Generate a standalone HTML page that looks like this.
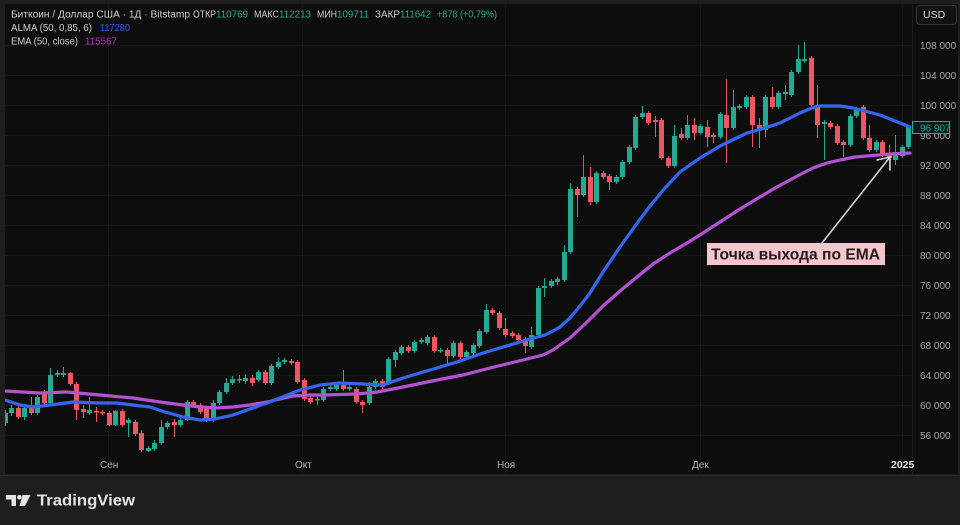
<!DOCTYPE html>
<html><head><meta charset="utf-8"><style>
html,body{margin:0;padding:0;background:#1e1e1e;width:960px;height:525px;overflow:hidden}
svg{display:block}
text{font-family:"Liberation Sans",sans-serif}
</style></head><body>
<svg width="960" height="525" viewBox="0 0 960 525" xmlns="http://www.w3.org/2000/svg">
<defs><clipPath id="plot"><rect x="5" y="4" width="907" height="452"/></clipPath></defs>
<rect x="0" y="0" width="960" height="525" fill="#1e1e1e"/>
<rect x="5" y="4" width="953" height="470" fill="#0e0e0e"/>
<line x1="0" y1="475.5" x2="960" y2="475.5" stroke="#2c2c2c" stroke-width="1"/>
<!-- grid -->
<g stroke="#171717" stroke-width="1">
<path d="M5 45.5H912M5 75.5H912M5 105.5H912M5 135.5H912M5 165.5H912M5 195.5H912M5 225.5H912M5 255.5H912M5 285.5H912M5 315.5H912M5 345.5H912M5 375.5H912M5 405.5H912M5 435.5H912"/>
<path d="M108.5 4V474M302.5 4V474M505.5 4V474M700.5 4V474M902.5 4V474"/>
</g>
<line x1="912.5" y1="4" x2="912.5" y2="474" stroke="#1c1c1c"/>
<g clip-path="url(#plot)">
<!-- green wicks -->
<path stroke="#22ab94" stroke-width="1" fill="none" d="M5.5 410V426M11.5 405V416M24.5 405V420M37.5 395V415M50.5 368V405M57.5 370V377M63.5 367V377M89.5 397V415M115.5 410V426M128.5 418V437M148.5 446V452M154.5 440V451M161.5 420V445M167.5 421V429M180.5 418V427M187.5 400V421M213.5 400V422M219.5 390V405M226.5 378V394M232.5 376V385M239.5 375V383M245.5 374V384M258.5 370V382M271.5 364V385M278.5 357V369M284.5 358V364M317.5 396V405M323.5 387V402M330.5 385V391M336.5 383V391M349.5 385V391M369.5 382V405M375.5 379V389M388.5 357V385M395.5 350V367M401.5 345V355M414.5 340V353M421.5 338V344M427.5 335V345M440.5 348V353M453.5 341V358M466.5 350V359M473.5 343V355M479.5 329V348M486.5 304V334M531.5 327V349M538.5 286V337M544.5 278V297M551.5 279V288M557.5 277V285M564.5 245V282M570.5 183V254M583.5 155V197M596.5 171V204M616.5 175V184M622.5 160V179M629.5 145V164M635.5 115V150M642.5 106V119M674.5 125V168M687.5 115V140M700.5 124V135M720.5 112V139M733.5 90V130M739.5 104V110M746.5 95V109M765.5 95V137M778.5 91V109M785.5 85V100M791.5 70V97M798.5 45V74M804.5 42V63M824.5 120V160M850.5 114V147M856.5 107V118M876.5 140V152M895.5 135V165M902.5 145V158M908.5 125V149"/>
<!-- green bodies -->
<path stroke="#22ab94" stroke-width="5" fill="none" d="M5.5 413V423M11.5 408V413M24.5 408V417M37.5 397V413M50.5 375V403M57.5 373V375M63.5 373V375M89.5 410V413M115.5 411V425M128.5 420V423M148.5 448V451M154.5 443V449M161.5 427V443M167.5 423V427M180.5 420V425M187.5 402V420M213.5 403V420M219.5 392V403M226.5 383V392M232.5 379V383M239.5 379V380.5M245.5 378V381M258.5 372V380M271.5 366V383M278.5 362V367M284.5 360V362M317.5 399V400.5M323.5 389V400M330.5 387V389M336.5 385V389M349.5 387V389M369.5 387V403M375.5 381V387M388.5 359V383M395.5 352V360M401.5 347V353M414.5 342V351M421.5 340V342M427.5 337V343M440.5 350V351.5M453.5 343V356M466.5 352V357M473.5 345V353M479.5 331V346M486.5 310V332M531.5 335V347M538.5 288V335M544.5 286V288M551.5 281V286M557.5 279V282M564.5 252V280M570.5 189V252M583.5 177V195M596.5 173V202M616.5 177V182M622.5 162V177M629.5 147V162M635.5 117V148M642.5 113V117M674.5 136V166M687.5 125V138M700.5 126V133M720.5 114V137M733.5 107V128M739.5 106V108M746.5 97V107M765.5 97V130M778.5 93V107M785.5 92V94M791.5 72V95M798.5 59V72M804.5 59V61M824.5 122V124M850.5 116V145M856.5 110V116M876.5 142V150M895.5 155V160M902.5 147V156M908.5 127V147"/>
<!-- red wicks -->
<path stroke="#f05563" stroke-width="1" fill="none" d="M18.5 406V419M31.5 397V415M44.5 390V405M70.5 372V386M76.5 382V420M83.5 405V418M96.5 407V422M102.5 410V415M109.5 411V426M122.5 409V427M135.5 420V436M141.5 430V452M174.5 419V437M193.5 400V407M200.5 403V414M206.5 406V422M252.5 375V386M265.5 370V385M291.5 359V365M297.5 360V384M304.5 378V401M310.5 396V404M343.5 370V391M356.5 387V404M362.5 400V413M382.5 379V389M408.5 345V353M434.5 335V353M447.5 348V364M460.5 341V359M492.5 308V315M499.5 311V330M505.5 318V337M512.5 331V338M518.5 333V342M525.5 337V353M577.5 187V217M590.5 167V205M603.5 171V179M609.5 174V190M648.5 111V125M655.5 116V137M661.5 118V160M668.5 156V168M681.5 128V140M694.5 118V140M707.5 120V147M713.5 133V143M726.5 79V163M752.5 95V147M759.5 118V148M772.5 87V109M811.5 56V107M817.5 85V138M830.5 121V129M837.5 124V145M843.5 140V157M863.5 105V140M869.5 125V152M882.5 140V157M889.5 145V170"/>
<!-- red bodies -->
<path stroke="#f05563" stroke-width="5" fill="none" d="M18.5 408V417M31.5 408V413M44.5 393V403M70.5 373V384M76.5 384V410M83.5 409V412M96.5 411V412.5M102.5 412V413.5M109.5 413V425M122.5 411V425M135.5 422V434M141.5 433V450M174.5 422V425M193.5 402V405M200.5 405V412M206.5 408V420M252.5 378V383M265.5 372V383M291.5 361V363M297.5 362V382M304.5 380V399M310.5 398V402M343.5 385V389M356.5 389V402M362.5 402V405M382.5 381V387M408.5 347V351M434.5 337V351M447.5 350V356M460.5 343V357M492.5 310V313M499.5 313V328M505.5 329V335M512.5 333V336M518.5 335V340M525.5 339V346M577.5 189V195M590.5 177V202M603.5 173V177M609.5 176V182M648.5 113V123M655.5 120V122M661.5 120V158M668.5 158V166M681.5 134V138M694.5 125V133M707.5 127V137M713.5 135V137M726.5 115V128M752.5 97V125M759.5 125V130M772.5 97V107M811.5 58V105M817.5 105V125M830.5 123V127M837.5 126V143M843.5 142V145M863.5 107V138M869.5 138V150M882.5 142V155M889.5 153V158"/>
<!-- EMA purple -->
<polyline fill="none" stroke="#b452d4" stroke-width="3.2" stroke-linejoin="round" stroke-linecap="round" points="5,391 40,393 67,392 100,395 133,398 160,402 183,405 200,407 215,408 233,407 250,405 267,402 280,399 293,396 310,395 323,395 357,394 377,392 403,387 437,380 463,375 490,368 523,360 543,355 553,350 560,345 570,338 587,322 603,306 620,291 637,277 653,264 670,253 687,243 703,233 720,222 740,209 760,197 775,188 790,180 803,173 813,168 827,163 840,160 855,157 867,156 890,154 910,153"/>
<!-- ALMA blue -->
<polyline fill="none" stroke="#3466f0" stroke-width="3.2" stroke-linejoin="round" stroke-linecap="round" points="5,400 20,405 33,407 50,405 73,402 100,403 117,403 133,405 150,407 165,412 183,417 200,420 215,419 233,415 250,409 267,403 285,396 300,390 320,385 340,383 363,384 383,385 403,378 430,370 457,362 483,353 510,345 530,339 545,335 553,331 560,327 570,318 580,306 590,293 603,272 620,247 635,226 650,206 665,188 680,172 700,158 720,146 747,133 765,128 780,123 800,113 812,108 820,106 840,106 853,108 880,115 895,121 910,127"/>
</g>
<!-- annotation arrow -->
<g stroke="#d8d8d8" stroke-width="1.5" fill="none" stroke-linecap="round">
<path d="M822 243L890 157"/>
<path d="M877 160L890 157L890 170"/>
</g>
<rect x="707" y="243" width="178" height="22" fill="#f3c6cb"/>
<text x="711" y="259.5" font-size="16" font-weight="bold" fill="#2a1a1a" textLength="169" lengthAdjust="spacingAndGlyphs">Точка выхода по EMA</text>
<!-- legend -->
<g font-size="10.5">
<text x="11" y="17.5" fill="#cfcfcf" textLength="179" lengthAdjust="spacingAndGlyphs">Биткоин / Доллар США · 1Д · Bitstamp</text>
<text x="193" y="17.5" fill="#cfcfcf" textLength="23" lengthAdjust="spacingAndGlyphs">ОТКР</text>
<text x="216" y="17.5" fill="#22ab94" textLength="32" lengthAdjust="spacingAndGlyphs">110769</text>
<text x="254" y="17.5" fill="#cfcfcf" textLength="25" lengthAdjust="spacingAndGlyphs">МАКС</text>
<text x="279" y="17.5" fill="#22ab94" textLength="32" lengthAdjust="spacingAndGlyphs">112213</text>
<text x="317" y="17.5" fill="#cfcfcf" textLength="20" lengthAdjust="spacingAndGlyphs">МИН</text>
<text x="337" y="17.5" fill="#22ab94" textLength="32" lengthAdjust="spacingAndGlyphs">109711</text>
<text x="375" y="17.5" fill="#cfcfcf" textLength="25" lengthAdjust="spacingAndGlyphs">ЗАКР</text>
<text x="400" y="17.5" fill="#22ab94" textLength="31" lengthAdjust="spacingAndGlyphs">111642</text>
<text x="437" y="17.5" fill="#22ab94" textLength="60" lengthAdjust="spacingAndGlyphs">+878 (+0,79%)</text>
<text x="11" y="31" fill="#cfcfcf" textLength="81" lengthAdjust="spacingAndGlyphs">ALMA (50, 0,85, 6)</text>
<text x="100" y="31" fill="#2f5ff0" textLength="30" lengthAdjust="spacingAndGlyphs">117280</text>
<text x="11" y="44.5" fill="#cfcfcf" textLength="67" lengthAdjust="spacingAndGlyphs">EMA (50, close)</text>
<text x="85" y="44.5" fill="#a83ab0" textLength="32" lengthAdjust="spacingAndGlyphs">115567</text>
</g>
<!-- USD -->
<rect x="916.5" y="5.5" width="40" height="19" rx="3" fill="#121212" stroke="#363636"/>
<text x="923" y="18" font-size="10.5" fill="#e0e0e0">USD</text>
<!-- price axis -->
<g font-size="10" fill="#a9a9a9">
<text x="920" y="49">108 000</text>
<text x="920" y="79">104 000</text>
<text x="920" y="109">100 000</text>
<text x="920" y="139">96 000</text>
<text x="920" y="169">92 000</text>
<text x="920" y="199">88 000</text>
<text x="920" y="229">84 000</text>
<text x="920" y="259">80 000</text>
<text x="920" y="289">76 000</text>
<text x="920" y="319">72 000</text>
<text x="920" y="349">68 000</text>
<text x="920" y="379">64 000</text>
<text x="920" y="409">60 000</text>
<text x="920" y="439">56 000</text>
</g>
<rect x="912.5" y="121.5" width="37" height="12" fill="#0d1a17" stroke="#22ab94"/>
<text x="920" y="131.5" font-size="10" fill="#22ab94">96 907</text>
<!-- time axis -->
<g font-size="10" fill="#b5b5b5">
<text x="100" y="468">Сен</text>
<text x="295" y="468">Окт</text>
<text x="497" y="468">Ноя</text>
<text x="692" y="468">Дек</text>
</g>
<text x="891" y="468" font-size="10.5" font-weight="bold" fill="#e6e6e6">2025</text>
<!-- TradingView logo -->
<g fill="#e4e4e4">
<path d="M6 495H16V506H11.5V499.5H6Z"/>
<circle cx="19.3" cy="497.3" r="2.3"/>
<path d="M22.5 495H30.5L25 506H19.5Z"/>
</g>
<text x="37" y="505.5" font-size="15.5" font-weight="bold" fill="#e4e4e4" textLength="98" lengthAdjust="spacingAndGlyphs">TradingView</text>
</svg>
</body></html>
